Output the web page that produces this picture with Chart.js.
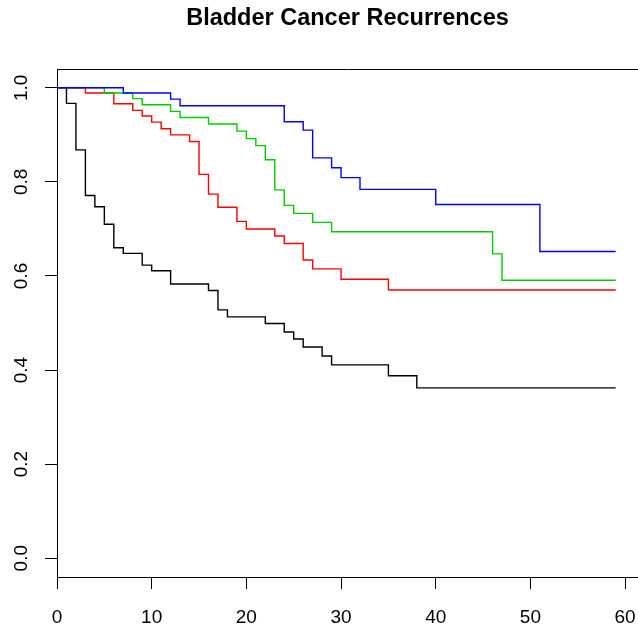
<!DOCTYPE html>
<html>
<head>
<meta charset="utf-8">
<script src="https://cdn.jsdelivr.net/npm/chart.js@4"></script>
<style>
  html, body { margin: 0; padding: 0; background: #fff; }
  canvas { display: block; }
</style>
</head>
<body>
<canvas id="kmChart" width="638" height="625"></canvas>
<script>
// ================= DATA =================
const blackTimes = [0, 1, 2, 3, 4, 5, 6, 7, 9, 10, 12, 16, 17, 18, 22, 24, 25, 26, 28, 29, 35, 38, 59];
const blackSurv  = [1, 0.967, 0.868, 0.771, 0.747, 0.710, 0.660, 0.648, 0.623, 0.611, 0.583, 0.569, 0.528, 0.513, 0.499, 0.481, 0.466, 0.449, 0.430, 0.411, 0.388, 0.362, 0.362];

const redTimes = [0, 3, 6, 8, 9, 10, 11, 12, 14, 15, 16, 17, 19, 20, 23, 24, 26, 27, 30, 35, 59];
const redSurv  = [1, 0.989, 0.966, 0.952, 0.940, 0.927, 0.913, 0.900, 0.886, 0.816, 0.774, 0.746, 0.716, 0.700, 0.685, 0.669, 0.634, 0.615, 0.593, 0.570, 0.570];

const greenTimes = [0, 5, 8, 9, 12, 13, 16, 19, 20, 21, 22, 23, 24, 25, 27, 29, 46, 47, 59];
const greenSurv  = [1, 0.989, 0.977, 0.964, 0.950, 0.937, 0.923, 0.908, 0.892, 0.877, 0.847, 0.783, 0.750, 0.733, 0.714, 0.694, 0.647, 0.591, 0.591];

const blueTimes = [0, 7, 12, 13, 24, 26, 27, 29, 30, 32, 40, 51, 59];
const blueSurv  = [1, 0.989, 0.976, 0.962, 0.928, 0.910, 0.851, 0.830, 0.809, 0.784, 0.752, 0.652, 0.652];

const xTicks = [0, 10, 20, 30, 40, 50, 60];
const yTicks = [0, 0.2, 0.4, 0.6, 0.8, 1.0];

const chartTitle = 'Bladder Cancer Recurrences';

// ================= HELPERS =================
function toPoints(times, surv){
    return times.map((t, i) => ({ x: t, y: surv[i] }));
}

function curve(times, surv, color, order){
    return {
        data: toPoints(times, surv),
        borderColor: color,
        borderWidth: 1.4,
        pointRadius: 0,
        stepped: 'before',
        fill: false,
        order: order
    };
}

// top line of the box + title centred over the plot region (R style)
const frameAndTitle = {
    id: 'frameAndTitle',
    afterDraw(chart){
        const a = chart.chartArea;
        const c = chart.ctx;
        c.save();
        c.strokeStyle = '#000';
        c.lineWidth = 1;
        c.beginPath();
        c.moveTo(a.left, Math.round(a.top) + 0.5);
        c.lineTo(a.right, Math.round(a.top) + 0.5);
        c.stroke();

        c.fillStyle = '#000';
        c.font = "bold 23.5px 'Liberation Sans', Arial, sans-serif";
        c.textAlign = 'center';
        c.textBaseline = 'middle';
        c.fillText(chartTitle, (a.left + a.right) / 2, 19);
        c.restore();
    }
};

// ================= CHART =================
Chart.defaults.font.family = "'Liberation Sans', Arial, Helvetica, sans-serif";
Chart.defaults.color = '#000';

const ctx = document.getElementById('kmChart');

new Chart(ctx, {
    type: 'line',
    data: {
        datasets: [
            curve(blackTimes, blackSurv, '#000000', 4),
            curve(redTimes, redSurv, '#FF0000', 3),
            curve(greenTimes, greenSurv, '#00CD00', 2),
            curve(blueTimes, blueSurv, '#0000FF', 1)
        ]
    },
    options: {
        responsive: false,
        animation: false,
        devicePixelRatio: 1,
        layout: { padding: { top: 69, left: 0, right: 0, bottom: 0 } },
        plugins: {
            legend: { display: false },
            tooltip: { enabled: false },
            title: { display: false }
        },
        scales: {
            x: {
                type: 'linear',
                min: 0,
                max: 61.36,
                afterBuildTicks: scale => { scale.ticks = xTicks.map(v => ({ value: v })); },
                afterFit: scale => { scale.height = 48; scale.paddingLeft = 0; scale.paddingRight = 0; },
                ticks: {
                    font: { size: 19 },
                    padding: 17,
                    maxRotation: 0,
                    autoSkip: false,
                    callback: v => String(v)
                },
                grid: {
                    drawOnChartArea: false,
                    drawTicks: true,
                    tickLength: 12,
                    tickColor: '#000',
                    tickWidth: 1
                },
                border: { display: true, color: '#000', width: 1 }
            },
            y: {
                type: 'linear',
                min: -0.04,
                max: 1.04,
                afterBuildTicks: scale => { scale.ticks = yTicks.map(v => ({ value: v })); },
                afterFit: scale => { scale.width = 57; scale.paddingTop = 0; scale.paddingBottom = 0; },
                ticks: {
                    font: { size: 19 },
                    padding: 10,
                    minRotation: 90,
                    maxRotation: 90,
                    crossAlign: 'center',
                    autoSkip: false,
                    callback: v => v.toFixed(1)
                },
                grid: {
                    drawOnChartArea: false,
                    drawTicks: true,
                    tickLength: 12,
                    tickColor: '#000',
                    tickWidth: 1
                },
                border: { display: true, color: '#000', width: 1 }
            }
        }
    },
    plugins: [frameAndTitle]
});
</script>
</body>
</html>
